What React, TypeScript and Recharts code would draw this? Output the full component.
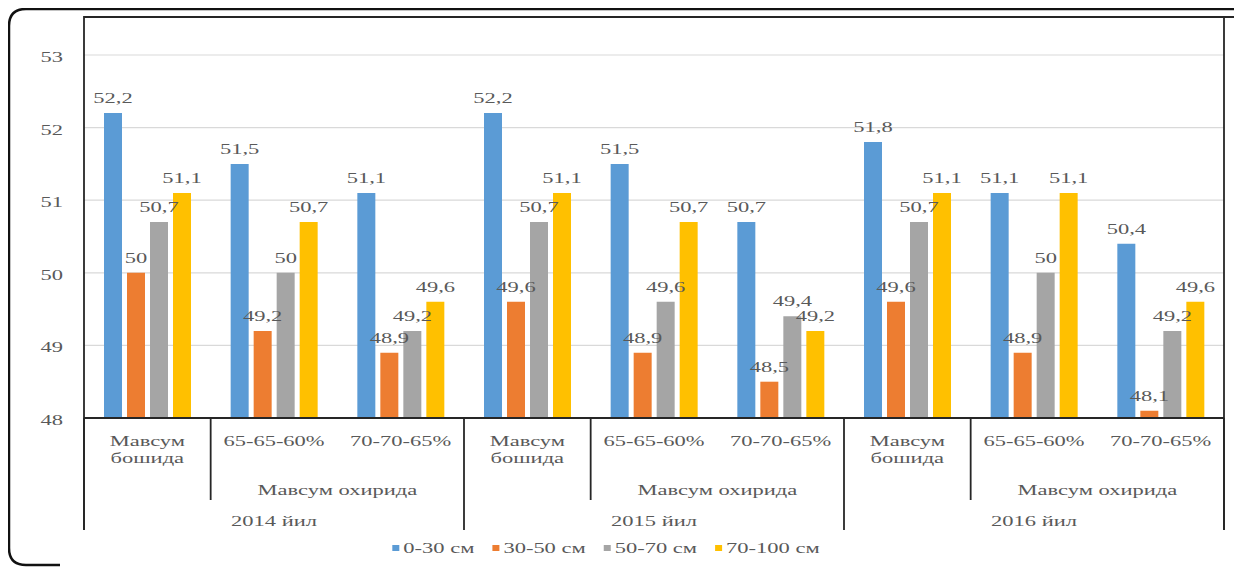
import { Bar, BarChart, CartesianGrid, LabelList, XAxis, YAxis } from "recharts";

// Soil density by depth layer, three seasons, three sampling points each
const categoryLabels = [
  "Мавсум бошида", "65-65-60%", "70-70-65%",
  "Мавсум бошида", "65-65-60%", "70-70-65%",
  "Мавсум бошида", "65-65-60%", "70-70-65%",
];
const seasonEndLabel = "Мавсум охирида";
const yearLabels = ["2014 йил", "2015 йил", "2016 йил"];

const depth0to30 = [52.2, 51.5, 51.1, 52.2, 51.5, 50.7, 51.8, 51.1, 50.4];
const depth30to50 = [50, 49.2, 48.9, 49.6, 48.9, 48.5, 49.6, 48.9, 48.1];
const depth50to70 = [50.7, 50, 49.2, 50.7, 49.6, 49.4, 50.7, 50, 49.2];
const depth70to100 = [51.1, 50.7, 49.6, 51.1, 50.7, 49.2, 51.1, 51.1, 49.6];

const yTicks = [48, 49, 50, 51, 52, 53];

const series = [
  { key: "d1", name: "0-30 см", color: "#5B9BD5", values: depth0to30 },
  { key: "d2", name: "30-50 см", color: "#ED7D31", values: depth30to50 },
  { key: "d3", name: "50-70 см", color: "#A5A5A5", values: depth50to70 },
  { key: "d4", name: "70-100 см", color: "#FFC000", values: depth70to100 },
];

const data = categoryLabels.map((label, i) => {
  const row: Record<string, string | number> = { label };
  series.forEach((s) => {
    row[s.key] = s.values[i];
  });
  return row;
});

const W = 1242;
const H = 568;
const FONT = '"Liberation Serif", "Times New Roman", serif';
const FONT_SIZE = 15;
const STRETCH = 1.5;
const TEXT = "#595959";
const LINE = "#262626";

const PLOT_LEFT = 84;
const PLOT_RIGHT = 1224;
const FRAME_TOP = 17;
const FRAME_BOTTOM = 530;

const fmt = (v: number) => String(v).replace(".", ",");

// the scanned chart is stretched sideways, so every text gets a horizontal scale
function WideText({
  x,
  y,
  anchor = "middle",
  fill = TEXT,
  children,
}: {
  x: number;
  y: number;
  anchor?: "start" | "middle" | "end";
  fill?: string;
  children: React.ReactNode;
}) {
  return (
    <text
      transform={`translate(${x},${y}) scale(${STRETCH},1)`}
      textAnchor={anchor}
      fontFamily={FONT}
      fontSize={FONT_SIZE}
      fill={fill}
    >
      {children}
    </text>
  );
}

function CategoryTick(props: any) {
  const { x, y, payload, index } = props;
  const half = payload?.offset ?? (PLOT_RIGHT - PLOT_LEFT) / categoryLabels.length / 2;
  const label: string = payload.value;
  const pos = index % 3;
  const words = label.split(" ");
  return (
    <g>
      {words.length > 1 ? (
        <>
          <WideText x={x} y={y + 28}>{words[0]}</WideText>
          <WideText x={x} y={y + 45}>{words[1]}</WideText>
        </>
      ) : (
        <WideText x={x} y={y + 28}>{label}</WideText>
      )}
      {pos === 0 && (
        <line x1={x - half} x2={x - half} y1={y} y2={FRAME_BOTTOM} stroke={LINE} strokeWidth={1.8} />
      )}
      {pos === 1 && (
        <>
          <line x1={x - half} x2={x - half} y1={y} y2={y + 82} stroke={LINE} strokeWidth={1.8} />
          <WideText x={x + half} y={y + 77}>{seasonEndLabel}</WideText>
          <WideText x={x} y={y + 108}>{yearLabels[Math.floor(index / 3)]}</WideText>
        </>
      )}
      {index === categoryLabels.length - 1 && (
        <line x1={x + half} x2={x + half} y1={y} y2={FRAME_BOTTOM} stroke={LINE} strokeWidth={1.8} />
      )}
    </g>
  );
}

function ValueTick(props: any) {
  const { y, payload } = props;
  return (
    <WideText x={63} y={y + 7} anchor="end">
      {payload.value}
    </WideText>
  );
}

function BarValue(props: any) {
  const { x, y, width, value } = props;
  return (
    <WideText x={x + width / 2} y={y - 10}>
      {fmt(value)}
    </WideText>
  );
}

let measureCtx: CanvasRenderingContext2D | null = null;
function measure(s: string) {
  if (!measureCtx) measureCtx = document.createElement("canvas").getContext("2d");
  if (!measureCtx) return s.length * 7;
  measureCtx.font = `${FONT_SIZE}px ${FONT}`;
  return measureCtx.measureText(s).width * STRETCH;
}

function Legend() {
  const square = 7;
  const gap = 4;
  const spacing = 18;
  const widths = series.map((s) => square + gap + measure(s.name));
  const total = widths.reduce((a, b) => a + b, 0) + spacing * (series.length - 1);
  let cursor = 606 - total / 2;
  const baseline = 553;
  return (
    <g>
      {series.map((s, i) => {
        const start = cursor;
        cursor += widths[i] + spacing;
        return (
          <g key={s.key}>
            <rect x={start} y={baseline - 8} width={square} height={square - 1} fill={s.color} />
            <WideText x={start + square + gap} y={baseline} anchor="start">
              {s.name}
            </WideText>
          </g>
        );
      })}
    </g>
  );
}

export default function App() {
  return (
    <div style={{ position: "relative", width: W, height: H, margin: "-8px 0 0 -8px", background: "#fff" }}>
      <BarChart
        width={W}
        height={H}
        data={data}
        margin={{ top: 55, right: W - PLOT_RIGHT, bottom: 38, left: 0 }}
        barCategoryGap={20}
        barGap={5}
      >
        <CartesianGrid vertical={false} stroke="#d9d9d9" strokeWidth={1.2} />
        <XAxis
          dataKey="label"
          height={112}
          interval={0}
          tickLine={false}
          tickSize={0}
          tickMargin={0}
          axisLine={{ stroke: LINE, strokeWidth: 1.8 }}
          tick={<CategoryTick />}
        />
        <YAxis
          width={PLOT_LEFT}
          domain={[48, 53]}
          ticks={yTicks}
          axisLine={false}
          tickLine={false}
          tick={<ValueTick />}
        />
        {series.map((s) => (
          <Bar key={s.key} dataKey={s.key} name={s.name} fill={s.color} isAnimationActive={false}>
            <LabelList dataKey={s.key} content={<BarValue />} />
          </Bar>
        ))}
      </BarChart>
      <svg
        width={W}
        height={H}
        style={{ position: "absolute", left: 0, top: 0, pointerEvents: "none" }}
      >
        {/* plot frame */}
        <polyline
          points={`${PLOT_LEFT},${FRAME_BOTTOM} ${PLOT_LEFT},${FRAME_TOP} ${PLOT_RIGHT},${FRAME_TOP} ${PLOT_RIGHT},${FRAME_BOTTOM}`}
          fill="none"
          stroke={LINE}
          strokeWidth={1.8}
        />
        <line x1={PLOT_LEFT} x2={W} y1={FRAME_TOP} y2={FRAME_TOP} stroke={LINE} strokeWidth={1.8} />
        {/* outer page border, open on the right */}
        <path
          d={`M ${W} 9 L 26 9 Q 9 9 9 26 L 9 548 Q 9 565 26 565 L 60 565`}
          fill="none"
          stroke="#111"
          strokeWidth={2.5}
        />
        <Legend />
      </svg>
    </div>
  );
}
